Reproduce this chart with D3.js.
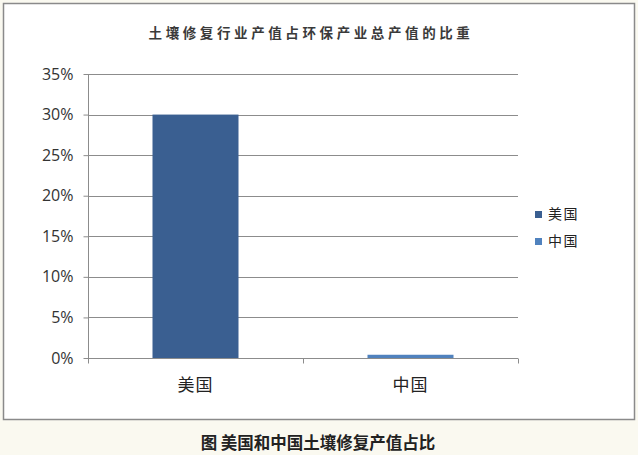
<!DOCTYPE html>
<html><head><meta charset="utf-8">
<script src="https://cdn.jsdelivr.net/npm/d3@7"></script>
<style>
html,body{margin:0;padding:0;background:#faf9f0;}
svg{display:block;font-family:"Noto Sans CJK SC","Open Sans",sans-serif;}
</style></head>
<body>
<svg id="c" width="638" height="455"></svg>
<script>
const categories = ["美国", "中国"];
const values = [0.30, 0.004];
const colors = ["#3a5f91", "#5082be"];
const yTicks = [0, 0.05, 0.10, 0.15, 0.20, 0.25, 0.30, 0.35];
const titleText = "土壤修复行业产值占环保产业总产值的比重";
const captionText = "图 美国和中国土壤修复产值占比";

(function () {
const svg = d3.select("#c");
svg.append("rect").attr("x", 0).attr("y", 0).attr("width", 638).attr("height", 455).attr("fill", "#faf9f0");
svg.append("rect").attr("x", 3.5).attr("y", 3.5).attr("width", 631).attr("height", 416)
  .attr("fill", "#fff").attr("stroke", "#8a8a8a").attr("stroke-width", 1.5);

const pL = 88, pR = 518, pT = 74, pB = 358;
const y = d3.scaleLinear().domain([0, 0.35]).range([pB, pT]);
const x = d3.scaleBand().domain(categories).range([pL, pR]).padding(0);

// gridlines
svg.append("g").selectAll("line").data(yTicks.filter(d => d > 0)).join("line")
  .attr("x1", pL).attr("x2", pR).attr("y1", d => Math.round(y(d)) + 0.5).attr("y2", d => Math.round(y(d)) + 0.5)
  .attr("stroke", "#8c8c8c").attr("stroke-width", 1);

// y axis
const yAxis = d3.axisLeft(y).tickValues(yTicks).tickSize(5).tickPadding(10).tickFormat(d => Math.round(d * 100) + "%");
const gy = svg.append("g").attr("transform", `translate(${pL + 0.5},0)`).call(yAxis);
gy.select(".domain").attr("stroke", "#8c8c8c").attr("d", `M0,${pT}V${pB}`);
gy.selectAll(".tick line").attr("stroke", "#8c8c8c");
gy.selectAll(".tick text").attr("fill", "#333").attr("font-size", 16)
  .attr("font-family", "'Open Sans','Liberation Sans',sans-serif");

// bars
const bw = x.bandwidth() * 0.4;
svg.append("g").selectAll("rect").data(categories).join("rect")
  .attr("x", d => x(d) + (x.bandwidth() - bw) / 2)
  .attr("width", bw)
  .attr("y", (d, i) => y(values[i]))
  .attr("height", (d, i) => y(0) - y(values[i]))
  .attr("fill", (d, i) => colors[i]);

// x axis
const gx = svg.append("g").attr("transform", `translate(0,${pB + 0.5})`);
gx.append("line").attr("x1", pL).attr("x2", pR).attr("stroke", "#8c8c8c");
const boundaries = [pL, ...categories.map(d => x(d) + x.bandwidth())];
gx.selectAll("line.tk").data(boundaries).join("line").attr("class", "tk")
  .attr("x1", d => Math.round(d) + 0.5).attr("x2", d => Math.round(d) + 0.5).attr("y1", 0).attr("y2", 5).attr("stroke", "#8c8c8c");
gx.selectAll("text").data(categories).join("text")
  .attr("x", d => x(d) + x.bandwidth() / 2).attr("y", 32)
  .attr("text-anchor", "middle").attr("font-size", 17).attr("letter-spacing", 1).attr("fill", "#222").text(d => d);

// title
svg.append("text").attr("x", 311).attr("y", 38).attr("text-anchor", "middle")
  .attr("font-size", 13.5).attr("font-weight", "bold").attr("letter-spacing", 3.6).attr("fill", "#3a3a3a")
  .text(titleText);

// legend
const lg = svg.append("g").selectAll("g").data(categories).join("g")
  .attr("transform", (d, i) => `translate(535,${211 + i * 27})`);
lg.append("rect").attr("width", 7).attr("height", 7).attr("fill", (d, i) => colors[i]);
lg.append("text").attr("x", 13).attr("y", 8).attr("font-size", 14).attr("letter-spacing", 1.5).attr("fill", "#222").text(d => d);

// caption
svg.append("text").attr("x", 318).attr("y", 449).attr("text-anchor", "middle")
  .attr("font-size", 16.5).attr("font-weight", "bold").attr("fill", "#222").text(captionText);
})();
</script>
</body></html>
